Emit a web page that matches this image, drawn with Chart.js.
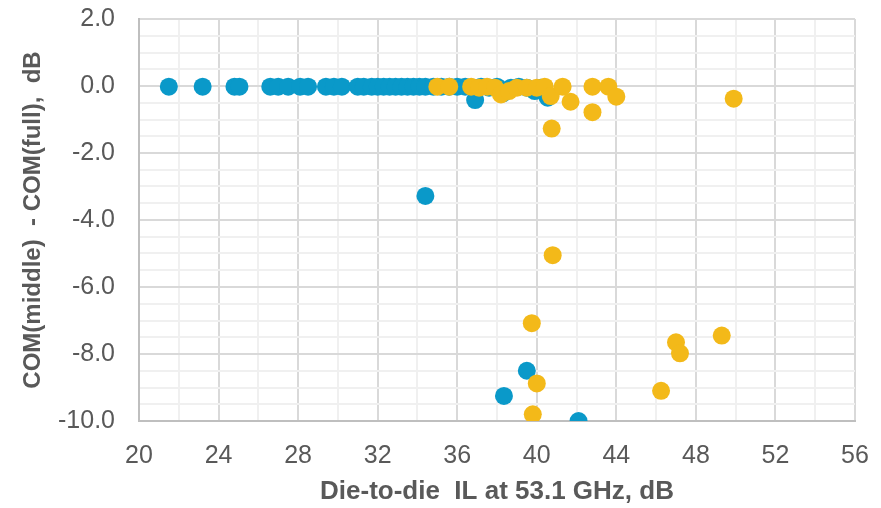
<!DOCTYPE html>
<html>
<head>
<meta charset="utf-8">
<script src="https://cdn.jsdelivr.net/npm/chart.js@4"></script>
<style>
    html, body { margin: 0; padding: 0; background: #ffffff; }
    #wrap { width: 881px; height: 508px; }
</style>
</head>
<body>
<div id="wrap"><canvas id="comChart" width="881" height="508"></canvas></div>
<script>
    // Blue series: die-to-die IL (x) vs COM difference (y)
    const blueIL = [21.5, 23.2, 24.8, 25.05, 26.6, 27.0, 27.5, 28.1, 28.5, 29.4, 29.8, 30.2,
        31.0, 31.3, 31.7, 32.0, 32.3, 32.6, 32.9, 33.2, 33.5, 33.8, 34.1, 34.4, 34.8, 35.2,
        35.6, 36.0, 36.4, 36.8, 36.9, 37.2, 37.6, 38.0, 38.3, 38.7, 39.1, 39.5, 39.9, 40.2,
        40.55, 34.4, 39.5, 38.35, 42.1];
    const blueDelta = [-0.02, -0.02, -0.02, -0.02, -0.02, -0.02, -0.02, -0.02, -0.02, -0.02, -0.02, -0.02,
        -0.02, -0.02, -0.02, -0.02, -0.02, -0.02, -0.02, -0.02, -0.02, -0.02, -0.02, -0.02, -0.02, -0.02,
        -0.02, -0.02, -0.02, -0.05, -0.42, -0.02, -0.05, -0.02, -0.22, -0.05, -0.02, -0.05, -0.15, -0.05,
        -0.35, -3.28, -8.5, -9.25, -10.0];

    // Yellow series
    const yellowIL = [35.0, 35.6, 36.7, 37.1, 37.5, 37.9, 38.2, 38.6, 39.0, 39.5, 40.0, 40.4,
        40.7, 41.3, 41.7, 40.75, 42.8, 42.8, 43.6, 44.0, 49.9, 40.8, 39.75, 40.0, 39.8,
        46.25, 47.0, 47.2, 49.3];
    const yellowDelta = [-0.02, -0.02, -0.02, -0.05, -0.02, -0.05, -0.25, -0.15, -0.05, -0.05, -0.05, -0.02,
        -0.3, -0.02, -0.47, -1.27, -0.02, -0.78, -0.02, -0.32, -0.38, -5.05, -7.08, -8.88, -9.8,
        -9.1, -7.65, -7.98, -7.45];

    const xTitle = "Die-to-die  IL at 53.1 GHz, dB";
    const yTitle = "COM(middle)  - COM(full),  dB";

    function toPoints(xs, ys) {
        return xs.map((x, i) => ({ x: x, y: ys[i] }));
    }

    const textGray = "#595959";
    const majorGrid = "#d9d9d9";
    const minorGrid = "#f0f0f0";
    const fontFamily = "Liberation Sans, Arial";

    const ctx = document.getElementById("comChart").getContext("2d");

    new Chart(ctx, {
        type: "scatter",
        data: {
            datasets: [
                {
                    data: toPoints(blueIL, blueDelta),
                    backgroundColor: "#0a99c9",
                    borderColor: "#0a99c9",
                    pointRadius: 9,
                    borderWidth: 0,
                    order: 2,
                },
                {
                    data: toPoints(yellowIL, yellowDelta),
                    backgroundColor: "#f3b919",
                    borderColor: "#f3b919",
                    pointRadius: 9,
                    borderWidth: 0,
                    order: 1,
                },
            ],
        },
        options: {
            responsive: false,
            animation: false,
            layout: {
                padding: { left: 0, right: 26, top: 19, bottom: 0 },
            },
            plugins: {
                legend: { display: false },
                title: { display: false },
                tooltip: { enabled: false },
            },
            scales: {
                x: {
                    type: "linear",
                    min: 20,
                    max: 56,
                    afterFit: (scale) => {
                        scale.height = 87;
                        scale.paddingLeft = 0;
                        scale.paddingRight = 0;
                    },
                    ticks: {
                        stepSize: 2,
                        autoSkip: false,
                        maxRotation: 0,
                        padding: 20,
                        color: textGray,
                        font: { family: fontFamily, size: 25 },
                        callback: (v) => (v % 4 === 0 ? String(v) : ""),
                    },
                    grid: {
                        drawTicks: false,
                        lineWidth: 2,
                        color: (c) => (c.tick && c.tick.value % 4 === 0 ? majorGrid : minorGrid),
                    },
                    border: { color: "#bfbfbf", width: 2 },
                    title: {
                        display: true,
                        text: xTitle,
                        color: textGray,
                        font: { family: fontFamily, size: 26, weight: "bold" },
                        padding: { top: 0, bottom: 1 },
                    },
                },
                y: {
                    type: "linear",
                    min: -10,
                    max: 2,
                    afterFit: (scale) => {
                        scale.width = 139;
                        scale.paddingTop = 0;
                        scale.paddingBottom = 0;
                    },
                    ticks: {
                        stepSize: 0.5,
                        autoSkip: false,
                        padding: 24,
                        color: textGray,
                        font: { family: fontFamily, size: 25 },
                        callback: (v) => (v % 2 === 0 ? v.toFixed(1) : ""),
                    },
                    grid: {
                        drawTicks: false,
                        lineWidth: 2,
                        color: (c) => (c.tick && c.tick.value % 2 === 0 ? majorGrid : minorGrid),
                    },
                    border: { color: "#bfbfbf", width: 2 },
                    title: {
                        display: true,
                        text: yTitle,
                        color: textGray,
                        font: { family: fontFamily, size: 24, weight: "bold" },
                        padding: { top: 19, bottom: 0 },
                    },
                },
            },
        },
    });
</script>
</body>
</html>
